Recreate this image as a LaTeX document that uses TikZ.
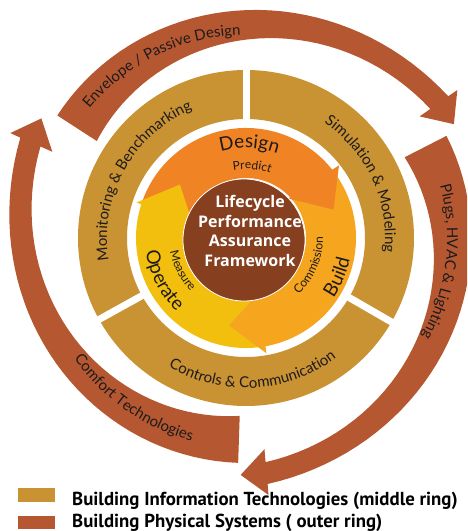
\documentclass[tikz,border=0pt]{standalone}
\usepackage{fontspec}
\setmainfont{Lato}
\newfontfamily\keyfont{PT Sans}
\newfontfamily\corefont{Open Sans}
\usetikzlibrary{decorations.text}
\definecolor{ringbrown}{RGB}{181,88,49}
\definecolor{ringgold}{RGB}{201,147,51}
\definecolor{designorange}{RGB}{240,132,36}
\definecolor{buildorange}{RGB}{246,165,30}
\definecolor{operateyellow}{RGB}{242,191,14}
\definecolor{corebrown}{RGB}{134,64,31}
\definecolor{labelgray}{RGB}{30,26,27}
\tikzset{
  outerring/.style={fill=ringbrown},
  midring/.style={fill=ringgold},
  gapline/.style={draw=white, line width=7pt},
  curvedtext/.style={decorate, decoration={text along path, text align=center, text color=labelgray}},
  keybox/.style={minimum width=37pt, inner sep=0pt, draw=none},
  keytext/.style={font=\keyfont\bfseries\fontsize{18.8}{18.8}\selectfont, inner sep=0pt, anchor=base west}
}

\begin{document}
\begin{tikzpicture}[x=1pt, y=1pt]
    \useasboundingbox (0,0) rectangle (467,531);
    \clip (0,0) rectangle (467,531);
    \begin{scope}[shift={(246,293)}]
    % Outer ring: three tapering arrows
    \foreach \a in {147,27,-92}
        \fill[outerring] plot[domain=0:1, samples=40] ({\a-112*\x}:{225+22*\x*\x*\x})
            -- ({\a-112}:258) -- ({\a-118.3}:237) -- ({\a-112}:212)
            -- plot[domain=1:0, samples=40] ({\a-112*\x}:{178+47*\x*(0.7+0.3*\x)}) -- cycle;

    % Middle ring with three gaps
    \fill[midring, even odd rule] (0,0) circle (168) (0,0) circle (119);
    \foreach \a in {90,-30,-151}
        \draw[gapline] (\a:114) -- (\a:173);

    % Inner ring: lifecycle arrows
    \fill[designorange] (161:110) arc[start angle=161, end angle=38, radius=110] -- (38:60) arc[start angle=38, end angle=161, radius=60] -- cycle;
    \fill[buildorange] (38:110) arc[start angle=38, end angle=-80, radius=110] -- (-80:60) arc[start angle=-80, end angle=38, radius=60] -- cycle;
    \fill[operateyellow] (-80:110) arc[start angle=-80, end angle=-199, radius=110] -- (-199:60) arc[start angle=-199, end angle=-80, radius=60] -- cycle;
    \fill[designorange] (38:118) -- (18:92) -- (43:58) -- cycle;
    \fill[buildorange] (-80:117) -- (-101:89) -- (-76:56) -- cycle;
    \fill[operateyellow] (162:115) -- (141:85) -- (167:54) -- cycle;

    % Core
    \filldraw[fill=corebrown, draw=white, line width=0.8pt] (-2,-2) circle (61);
    \node[font=\corefont\bfseries\fontsize{16}{19.5}\selectfont, text=white, align=center, inner sep=0pt] (core) at (4,7) {Lifecycle\\Performance\\Assurance\\Framework};

    % Labels, outer ring
    \path[curvedtext, decoration={text={|\fontsize{15}{15}\selectfont|Envelope / Passive Design}}] (176:203) arc[start angle=176, end angle=56, radius=203];
    \path[curvedtext, decoration={text={|\fontsize{15}{15}\selectfont|Plugs, HVAC {\&} Lighting}}] (53:201) arc[start angle=53, end angle=-67, radius=201];
    \path[curvedtext, decoration={text={|\fontsize{15}{15}\selectfont|Comfort Technologies}}] (-185:210) arc[start angle=-185, end angle=-65, radius=210];

    % Labels, middle ring
    \path[curvedtext, decoration={text={|\fontsize{15}{15}\selectfont|Monitoring {\&} Benchmarking}}] (211:139) arc[start angle=211, end angle=91, radius=139];
    \path[curvedtext, decoration={text={|\fontsize{15}{15}\selectfont|Simulation {\&} Modeling}}] (85:139) arc[start angle=85, end angle=-35, radius=139];
    \path[curvedtext, decoration={text={|\fontsize{15}{15}\selectfont|Controls {\&} Communication}}] (-147:150) arc[start angle=-147, end angle=-27, radius=150];

    % Labels, inner ring
    \path[curvedtext, decoration={text={|\fontsize{19}{19}\selectfont|Design}}] (148:90) arc[start angle=148, end angle=28, radius=90];
    \path[curvedtext, decoration={text={|\fontsize{12}{12}\selectfont|Predict}}] (145:69) arc[start angle=145, end angle=25, radius=69];
    \path[curvedtext, decoration={text={|\fontsize{19}{19}\selectfont|Build}}] (-83:106) arc[start angle=-83, end angle=37, radius=106];
    \path[curvedtext, decoration={text={|\fontsize{12}{12}\selectfont|Commission}}] (-83:77) arc[start angle=-83, end angle=37, radius=77];
    \path[curvedtext, decoration={text={|\fontsize{19}{19}\selectfont|Operate}}] (147:101) arc[start angle=147, end angle=267, radius=101];
    \path[curvedtext, decoration={text={|\fontsize{12}{12}\selectfont|Measure}}] (147:77) arc[start angle=147, end angle=267, radius=77];
    \end{scope}

    % Key
    \node[keybox, fill=ringgold, minimum height=14pt] (keymid) at (36.5,36) {};
    \node[keybox, fill=ringbrown, minimum height=13pt] (keyout) at (36.5,8.5) {};
    \node[keytext] (keymidtext) at (72,26) {Building Information Technologies (middle ring)};
    \node[keytext] (keyouttext) at (72,4) {Building Physical Systems ( outer ring)};
\end{tikzpicture}
\end{document}
